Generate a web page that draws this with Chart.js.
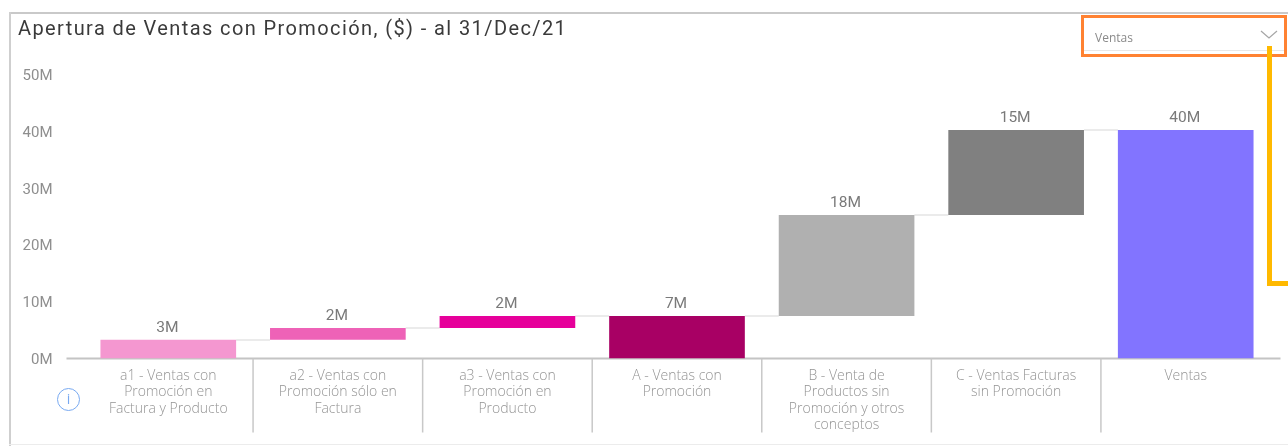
<!DOCTYPE html>
<html><head><meta charset="utf-8">
<script src="https://cdn.jsdelivr.net/npm/chart.js@4"></script>
<style>
html,body{margin:0;padding:0;background:#fff;width:1288px;height:446px;overflow:hidden}
#wrap{position:relative;width:1288px;height:446px}
canvas{position:absolute;left:0;top:0}
.frameT{position:absolute;left:9px;top:12px;width:1279px;height:2px;background:#c9c9c9}
.frameL{position:absolute;left:9px;top:12px;width:2px;height:434px;background:#cfcfcf}
.frameB{position:absolute;left:9px;top:444px;width:1279px;height:1px;background:#ececec}
.drop{position:absolute;left:1081px;top:15px;width:200px;height:36px;border:3px solid #ff8232;box-sizing:content-box;font:12px "Open Sans",sans-serif;color:#8a8a8a}
.drop span{position:absolute;left:11px;top:11px}
.drop i{position:absolute;left:0;right:0;bottom:3px;height:1px;background:#e8e8e8}
.yel1{position:absolute;left:1267px;top:46px;width:5px;height:240px;background:#ffb900}
.yel2{position:absolute;left:1267px;top:281px;width:21px;height:5px;background:#ffb900}
.info{position:absolute;left:57px;top:388px;width:23px;height:23px;border:1.5px solid #78a9f0;border-radius:50%;box-sizing:border-box;color:#78a9f0;font:14px "Open Sans",sans-serif;text-align:center;line-height:20px}
</style></head><body>
<div id="wrap">
<canvas id="c" width="1288" height="446"></canvas>
<div class="frameT"></div><div class="frameL"></div><div class="frameB"></div>
<div class="drop"><span>Ventas</span><i></i>
<svg style="position:absolute;left:176px;top:12px" width="18" height="10"><path d="M1 1 L9 8 L17 1" fill="none" stroke="#a6a6a6" stroke-width="1.2"/></svg></div>
<div class="yel1"></div><div class="yel2"></div>
<div class="info">i</div>
</div>
<script>
const titleText = "Apertura de Ventas con Promoción, ($) - al 31/Dec/21";
const categories = [
  ["a1 - Ventas con","Promoción en","Factura y Producto"],
  ["a2 - Ventas con","Promoción sólo en","Factura"],
  ["a3 - Ventas con","Promoción en","Producto"],
  ["A - Ventas con","Promoción"],
  ["B - Venta de","Productos sin","Promoción y otros","conceptos"],
  ["C - Ventas Facturas","sin Promoción"],
  ["Ventas"]
];
const barLow  = [0, 3.3, 5.4, 0, 7.5, 25.3, 0];
const barHigh = [3.3, 5.4, 7.5, 7.5, 25.3, 40.3, 40.3];
const valueLabels = ["3M","2M","2M","7M","18M","15M","40M"];
const barColors = ["#F497D0","#EE62B7","#E6009A","#A80064","#B0B0B0","#808080","#8274FF"];
const yTicks = [0,10,20,30,40,50];

const decor = {
  id:"decor",
  beforeDraw(ch){
    const t = ch.titleBlock;
    if(t && !t._spaced){
      const orig = t.draw;
      t.draw = function(...a){
        ch.ctx.letterSpacing = "1.4px";
        orig.apply(t,a);
        ch.ctx.letterSpacing = "0px";
      };
      t._spaced = true;
    }
  },
  beforeDatasetsDraw(ch){
    const {ctx,chartArea:a,scales:{x,y}} = ch;
    const bars = ch.getDatasetMeta(0).data;
    ctx.save();
    ctx.strokeStyle="#e4e4e4"; ctx.lineWidth=1.5;
    for(let i=0;i<bars.length-1;i++){
      const py=Math.round(y.getPixelForValue(barHigh[i]));
      ctx.beginPath();
      ctx.moveTo(bars[i].x+bars[i].width/2,py);
      ctx.lineTo(bars[i+1].x-bars[i+1].width/2,py);
      ctx.stroke();
    }
    ctx.strokeStyle="#c4c4c4"; ctx.lineWidth=2;
    ctx.beginPath();
    ctx.moveTo(a.left-17,a.bottom);
    ctx.lineTo(a.right+10,a.bottom);
    ctx.stroke();
    ctx.strokeStyle="#c8c8c8"; ctx.lineWidth=1.5;
    const step=(x.getPixelForValue(1)-x.getPixelForValue(0));
    for(let i=0;i<bars.length-1;i++){
      const sx=x.getPixelForValue(i)+step/2;
      ctx.beginPath();
      ctx.moveTo(sx,a.bottom);
      ctx.lineTo(sx,a.bottom+74);
      ctx.stroke();
    }
    ctx.restore();
  },
  afterDatasetsDraw(ch){
    const {ctx,scales:{y}} = ch;
    const bars = ch.getDatasetMeta(0).data;
    ctx.save();
    ctx.font='15.5px Roboto'; ctx.fillStyle="#7a7a7a";
    ctx.textAlign="center"; ctx.textBaseline="bottom";
    bars.forEach((b,i)=>ctx.fillText(valueLabels[i],b.x-1,y.getPixelForValue(barHigh[i])-4));
    ctx.restore();
  }
};

new Chart(document.getElementById("c"),{
  type:"bar",
  data:{labels:categories,datasets:[{
    data:barLow.map((l,i)=>[l,barHigh[i]]),
    backgroundColor:barColors,
    categoryPercentage:1,barPercentage:0.8,borderWidth:0,borderSkipped:false
  }]},
  plugins:[decor],
  options:{
    responsive:false,animation:false,
    layout:{padding:{left:18,right:17.5,top:0,bottom:0}},
    plugins:{
      legend:{display:false},tooltip:{enabled:false},
      title:{display:true,text:titleText,align:"start",color:"#3a3a3a",
        font:{family:"Roboto",size:20,weight:"normal"},padding:{top:18,bottom:33}}
    },
    scales:{
      x:{
        grid:{display:false},border:{display:false},
        afterFit(s){s.height=87.5;},
        ticks:{color:"#949494",font:{family:"Open Sans",size:14,weight:"300",lineHeight:1.18},padding:1,maxRotation:0,autoSkip:false}
      },
      y:{
        min:0,max:50,
        afterBuildTicks(s){s.ticks=yTicks.map(v=>({value:v}));},
        afterFit(s){s.width=65.5;},
        grid:{display:false,drawTicks:false},border:{display:false},
        ticks:{color:"#8e8e8e",font:{family:"Roboto",size:15},padding:31,labelOffset:1.5,callback:v=>v+"M"}
      }
    }
  }
});
</script>
</body></html>
